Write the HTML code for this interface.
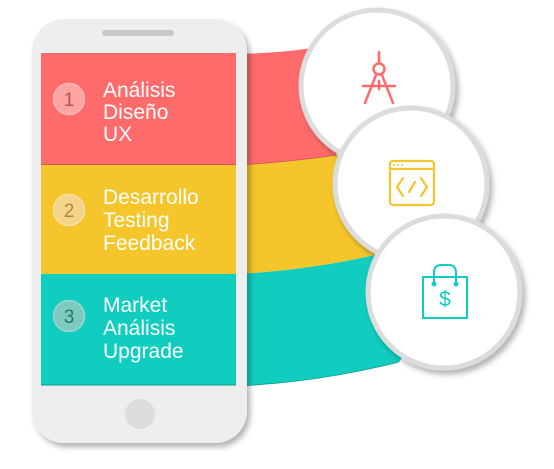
<!DOCTYPE html>
<html><head><meta charset="utf-8"><style>
html,body{margin:0;padding:0;background:#fff;width:554px;height:469px;overflow:hidden}
</style></head><body>
<svg width="554" height="469" viewBox="0 0 554 469" xmlns="http://www.w3.org/2000/svg">
<defs>
<filter id="sh" x="-20%" y="-20%" width="150%" height="150%"><feDropShadow dx="3" dy="4" stdDeviation="3" flood-color="#000" flood-opacity="0.3"/></filter>
</defs>
<!-- bands -->
<path d="M238,54 Q280,53 312,48 L380,85 L336,155 Q290,162 238,165 Z" fill="#FF6B6B"/>
<path d="M238,165 Q290,162 336,155 L410,185 L375,255 Q310,270 238,274 Z" fill="#F5C52C"/>
<path d="M238,274 Q310,270 375,255 L445,300 L399,362 Q320,382 238,386 Z" fill="#10CDC0"/>
<path d="M238,165 Q290,162 336,155" fill="none" stroke="#c95050" stroke-width="0.8"/>
<path d="M238,386 Q320,382 399,362" fill="none" stroke="#0a9a90" stroke-width="0.8"/>
<!-- phone -->
<rect x="32" y="19" width="215" height="424" rx="32" fill="#EEEEEE" filter="url(#sh)"/>
<rect x="102" y="30" width="72" height="6" rx="3" fill="#C8C8C8"/>
<rect x="41" y="53" width="195" height="111" fill="#FF6B6B"/>
<rect x="41" y="164" width="195" height="110" fill="#F5C52C"/>
<rect x="41" y="274" width="195" height="111" fill="#10CDC0"/>
<line x1="41" y1="164.5" x2="236" y2="164.5" stroke="#d45a5a" stroke-width="1"/>
<line x1="41" y1="385" x2="236" y2="385" stroke="#0a9a90" stroke-width="1"/>
<circle cx="140" cy="414" r="15" fill="#DDDDDD"/>
<!-- number circles -->
<circle cx="69" cy="99" r="15.5" fill="#FFA3A3" stroke="#FFB9B9" stroke-width="1.5"/>
<circle cx="69" cy="210" r="15.5" fill="#F4D48A" stroke="#F7DFA8" stroke-width="1.5"/>
<circle cx="69" cy="316" r="15.5" fill="#7FCAC0" stroke="#9ad6cc" stroke-width="1.5"/>
<g font-family="Liberation Sans, sans-serif" font-size="19" text-anchor="middle">
<text x="69" y="106" fill="#B85050">1</text>
<text x="69" y="217" fill="#B08A30">2</text>
<text x="69" y="323" fill="#1E7A70">3</text>
</g>
<g font-family="Liberation Sans, sans-serif" font-size="21" fill="#fff">
<text x="103" y="97">Análisis</text>
<text x="103" y="119">Diseño</text>
<text x="103" y="141">UX</text>
<text x="103" y="204">Desarrollo</text>
<text x="103" y="227">Testing</text>
<text x="103" y="250">Feedback</text>
<text x="103" y="312">Market</text>
<text x="103" y="335">Análisis</text>
<text x="103" y="358">Upgrade</text>
</g>
<!-- big circles -->
<circle cx="377" cy="86" r="76" fill="#fff" stroke="#DCDCDC" stroke-width="5" filter="url(#sh)"/>
<circle cx="411" cy="184" r="76" fill="#fff" stroke="#DCDCDC" stroke-width="5" filter="url(#sh)"/>
<circle cx="444" cy="292" r="76" fill="#fff" stroke="#DCDCDC" stroke-width="5" filter="url(#sh)"/>
<!-- compass icon -->
<g stroke="#FF6B6B" stroke-width="2.5" fill="none" stroke-linecap="round">
<line x1="379" y1="52" x2="379" y2="62"/>
<circle cx="379" cy="69" r="5.5"/>
<line x1="376" y1="75" x2="365" y2="103"/>
<line x1="382" y1="75" x2="393" y2="103"/>
<line x1="363" y1="86" x2="395" y2="86"/>
<line x1="379" y1="81" x2="379" y2="89"/>
</g>
<!-- code icon -->
<g stroke="#F5C52C" stroke-width="2.2" fill="none" stroke-linecap="round">
<rect x="390" y="161" width="44" height="44" rx="3"/>
<line x1="390" y1="169" x2="434" y2="169"/>
<polyline points="403,178 397,187 403,196"/>
<polyline points="421,178 427,187 421,196"/>
<line x1="415" y1="182" x2="409" y2="192"/>
</g>
<g fill="#F5C52C"><circle cx="394" cy="165" r="1"/><circle cx="398" cy="165" r="1"/><circle cx="402" cy="165" r="1"/></g>
<!-- bag icon -->
<g stroke="#10CDC0" stroke-width="2" fill="none">
<rect x="423" y="277" width="44" height="41"/>
<path d="M434,283 V273 Q434,265 441,265 H449 Q456,265 456,273 V283"/>
<circle cx="434" cy="284" r="1.5" fill="#10CDC0"/>
<circle cx="456" cy="284" r="1.5" fill="#10CDC0"/>
</g>
<text x="445" y="306" font-family="Liberation Sans, sans-serif" font-size="21" fill="#10CDC0" text-anchor="middle">$</text>
</svg>
</body></html>
